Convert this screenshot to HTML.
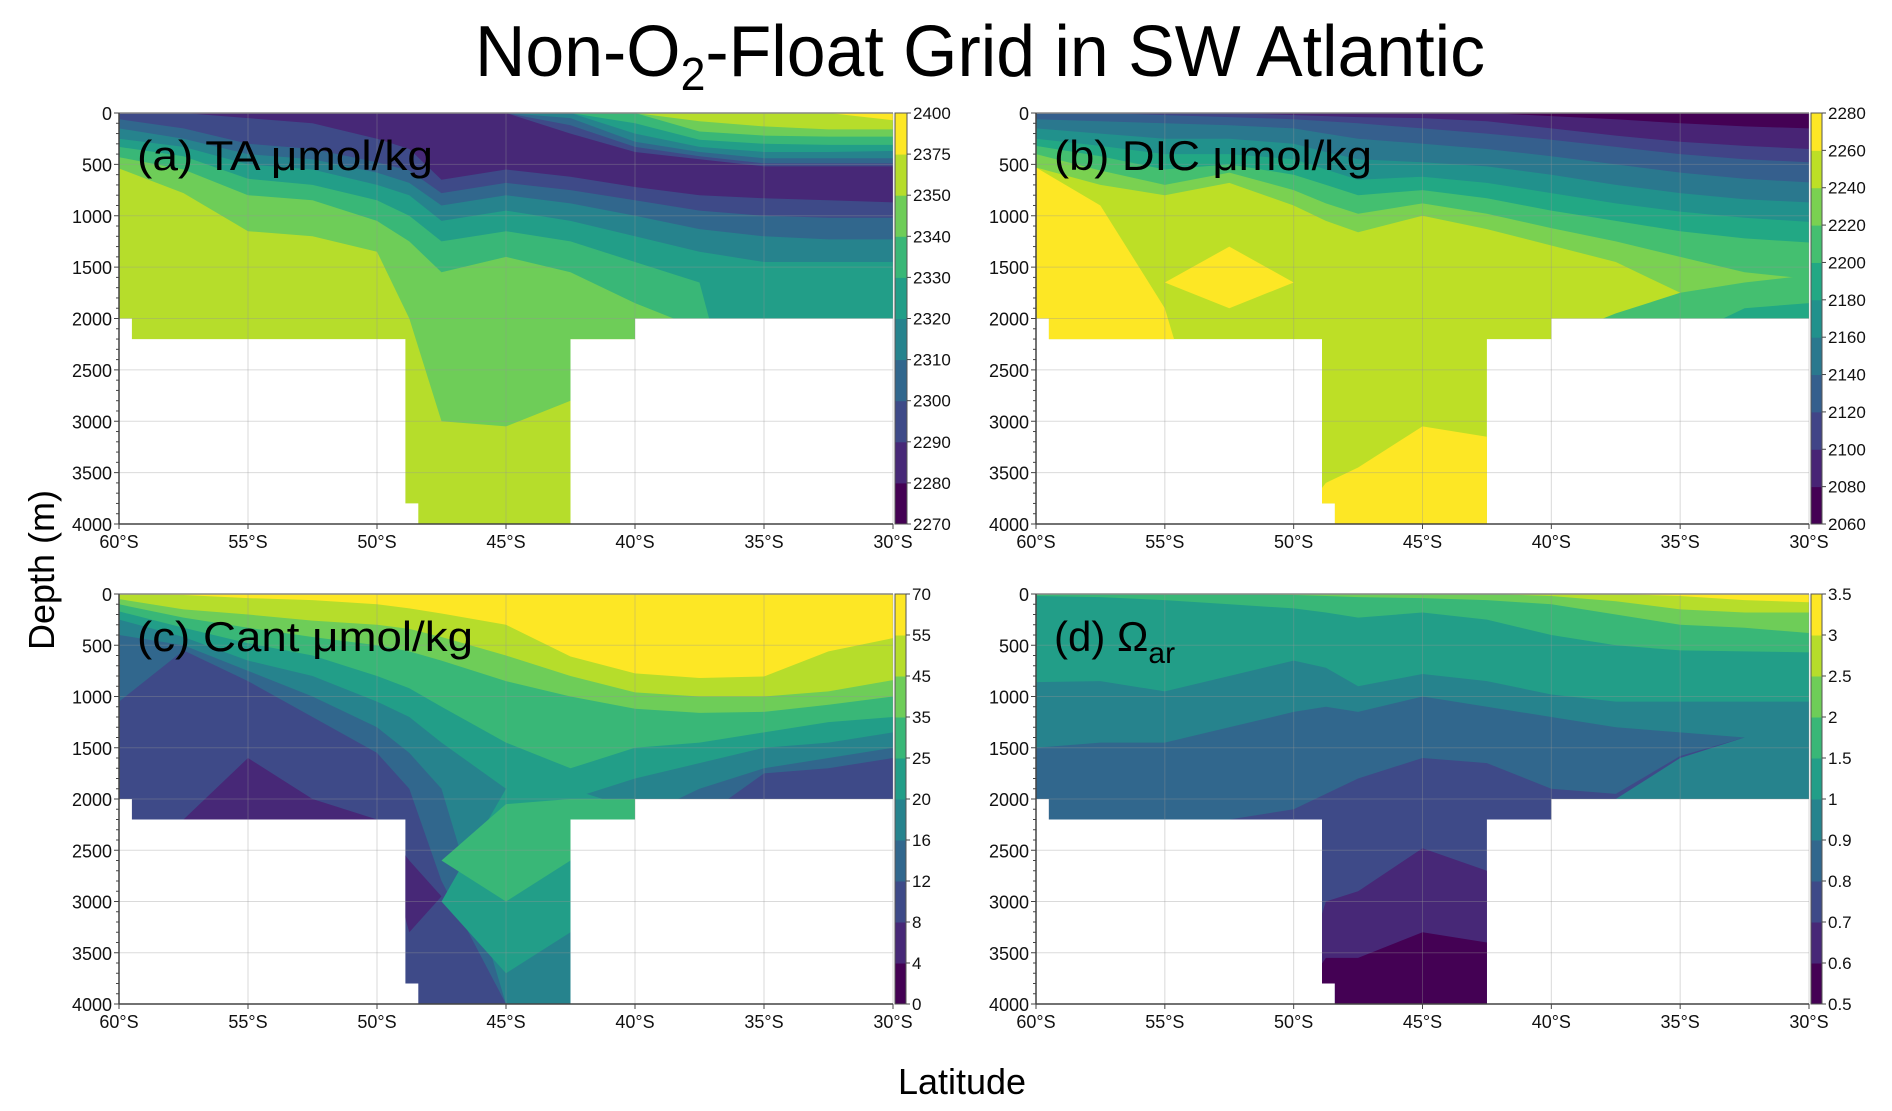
<!DOCTYPE html>
<html><head><meta charset="utf-8"><style>
html,body{margin:0;padding:0;background:#fff;}
svg{display:block;font-family:"Liberation Sans",sans-serif;}
</style></head><body>
<svg id="fig" width="1892" height="1111" viewBox="0 0 1892 1111" xmlns="http://www.w3.org/2000/svg">
<text x="980" y="76" text-anchor="middle" font-size="72" textLength="1010" lengthAdjust="spacingAndGlyphs" fill="#000">Non-O<tspan font-size="46" dy="14">2</tspan><tspan dy="-14">-Float Grid in SW Atlantic</tspan></text>
<text x="0" y="0" transform="translate(54,570) rotate(-90)" text-anchor="middle" font-size="36" fill="#000">Depth (m)</text>
<text x="962" y="1094" text-anchor="middle" font-size="36" fill="#000">Latitude</text>
</svg>
<script>
// ---------- shared data ----------
const LAT = [60,57.5,55,52.5,50,48.75,47.5,45,42.5,40,37.5,35,32.5,30];
const X_TICKS = [60,55,50,45,40,35,30];
const Y_TICKS = [0,500,1000,1500,2000,2500,3000,3500,4000];
const MASK_LAT = [60,30,30,40,40,42.5,42.5,48.4,48.4,48.9,48.9,59.5,59.5,60];
const MASK_DEP = [0,0,2000,2000,2200,2200,4000,4000,3800,3800,2200,2200,2000,2000];

// ---------- (a) TA ----------
const taLevels = ["2270","2280","2290","2300","2310","2320","2330","2340","2350","2375","2400"];
const taBot7 = [540,780,1150,1200,1350,2000,3000,3050,2800,9999,9999,9999,9999,9999];
const taBot6 = [430,550,800,850,1050,1250,1550,1400,1550,1850,2100,9999,9999,9999];
const taBot5 = [330,420,640,700,850,1000,1250,1150,1250,1450,1650,9999,9999,9999];
const taBot4 = [250,330,500,550,700,800,1050,950,1050,1200,1350,1450,1450,1450];
const taBot3 = [150,250,400,450,580,680,900,800,880,1000,1130,1200,1230,1230];
const taBot2 = [60,150,300,350,480,560,780,680,750,850,950,1000,1020,1020];
const taBot1 = [0,0,50,100,250,350,650,550,620,720,800,830,850,870];
const taTop2 = [0,0,0,0,0,0,0,0,200,380,450,520,520,520];
const taTop3 = [0,0,0,0,0,0,0,0,120,330,420,490,490,490];
const taTop4 = [0,0,0,0,0,0,0,0,50,280,380,440,440,440];
const taTop5 = [0,0,0,0,0,0,0,0,0,200,330,380,380,370];
const taTop6 = [0,0,0,0,0,0,0,0,0,100,260,300,310,310];
const taTop7 = [0,0,0,0,0,0,0,0,0,0,180,220,230,230];
const taTop8 = [0,0,0,0,0,0,0,0,0,0,80,130,160,160];
const taTop9 = [0,0,0,0,0,0,0,0,0,0,0,0,0,70];

// ---------- (b) DIC ----------
const dicLevels = ["2060","2080","2100","2120","2140","2160","2180","2200","2220","2240","2260","2280"];
const dicYellowLeftTop = [530,900,1900,4000,4000,4000,4000,4000,4000,4000,4000,4000,4000,4000];
const dicBlobTop = [1650,1650,1650,1300,1650,1650,1650,1650,1650,1650,1650,1650,1650,1650];
const dicBlobBot = [1650,1650,1650,1900,1650,1650,1650,1650,1650,1650,1650,1650,1650,1650];
const dicDeepTop = [4000,4000,4000,4000,4000,3600,3450,3050,3150,4000,4000,4000,4000,4000];
const dicLowRight7 = [4000,4000,4000,4000,4000,4000,4000,4000,4000,2200,1950,1750,1650,1580];
const dicLowRight6 = [4000,4000,4000,4000,4000,4000,4000,4000,4000,4000,4000,2200,1900,1850];
const dicBot8 = [530,700,800,680,900,1050,1160,1000,1130,1290,1450,1750,9999,9999];
const dicBot7 = [400,560,700,580,750,880,980,880,980,1120,1250,1400,1550,1615];
const dicBot6 = [320,420,550,500,600,700,800,750,830,950,1050,1150,1220,1260];
const dicBot5 = [250,320,400,400,450,550,650,620,680,780,880,960,1020,1060];
const dicBot4 = [150,200,250,250,300,380,450,480,520,600,700,780,840,870];
const dicBot3 = [60,80,100,120,150,200,250,300,350,420,500,580,640,675];
const dicBot2 = [0,0,20,40,60,80,100,150,200,260,330,400,450,480];
const dicBot1 = [0,0,0,0,20,30,40,50,80,150,220,280,320,350];
const dicBot0 = [0,0,0,0,0,0,0,0,0,30,60,100,130,150];

// ---------- (c) Cant ----------
const cantLevels = ["0","4","8","12","16","20","25","35","45","55","70"];
const cantBot9 = [0,10,40,60,100,140,190,300,610,775,820,805,560,430];
const cantBot8 = [50,150,200,260,300,340,420,600,800,960,1000,1000,950,840];
const cantBot7 = [100,230,330,420,500,560,650,850,1000,1120,1160,1150,1080,1000];
const cantBot6 = [170,330,480,600,800,920,1100,1450,1700,1500,1450,1350,1250,1200];
const cantBot5 = [250,420,650,800,1050,1200,1450,1900,2000,1800,1650,1500,1450,1350];
const cantBot4 = [400,500,750,1000,1300,1550,1900,4000,4000,2200,1900,1700,1600,1500];
const cantBot3 = [1050,550,850,1200,1550,1900,2800,4000,4000,2200,2200,1750,1700,1600];
const cantPurpleTop = [2200,2200,1600,2000,2200,2600,2950,2950,2950,2950,2950,2950,2950,2950];
const cantPurpleBot = [2200,2200,2200,2200,2200,3300,2950,2950,2950,2950,2950,2950,2950,2950];
const cantDeep5Top = [3000,3000,3000,3000,3000,3000,3000,1900,1900,2100,2100,2100,2100,2100];
const cantDeep5Bot = [3000,3000,3000,3000,3000,3000,3000,3700,3300,2100,2100,2100,2100,2100];
const cantDeep6Top = [2600,2600,2600,2600,2600,2600,2600,2050,2000,2000,2100,2100,2100,2100];
const cantDeep6Bot = [2600,2600,2600,2600,2600,2600,2600,3000,2600,2200,2100,2100,2100,2100];

// ---------- (d) Omega aragonite ----------
const omLevels = ["0.5","0.6","0.7","0.8","0.9","1","1.5","2","2.5","3","3.5"];
const omDeep1Top = [4000,4000,4000,4000,4000,3000,2900,2480,2700,4000,4000,4000,4000,4000];
const omDeep0Top = [4000,4000,4000,4000,4000,3550,3550,3300,3400,4000,4000,4000,4000,4000];
const omLow4Top = [4000,4000,4000,4000,4000,4000,4000,4000,4000,2200,2000,1600,1400,1400];
const omBot3 = [2200,2200,2200,2200,2100,1950,1800,1600,1650,1900,1950,1580,1400,0];
const omBot4 = [1500,1450,1450,1300,1150,1100,1150,1000,1100,1200,1300,1350,1400,1400];
const omBot5 = [860,850,950,800,650,720,900,780,850,980,1050,1050,1050,1050];
const omBot6 = [20,30,60,100,140,180,230,180,250,400,500,550,560,570];
const omBot7 = [0,0,0,0,10,20,30,40,60,100,200,300,330,380];
const omBot8 = [0,0,0,0,0,0,0,0,0,20,70,150,180,180];
const omBot9 = [0,0,0,0,0,0,0,0,0,0,0,20,60,80];

const FULL = LAT.map(()=>4000);
const ZERO = LAT.map(()=>0);

// ---------- helpers ----------
const NS = "http://www.w3.org/2000/svg";
const svg = document.getElementById('fig');
const VIR = ["#440154","#482475","#414487","#355f8d","#2a788e","#21918c","#22a884","#44bf70","#7ad151","#bddf26","#fde725"];
function hex(c){return [parseInt(c.slice(1,3),16),parseInt(c.slice(3,5),16),parseInt(c.slice(5,7),16)];}
function viridis(t){
  const p=t*10, i=Math.min(9,Math.floor(p)), f=p-i;
  const a=hex(VIR[i]), b=hex(VIR[i+1]);
  return "rgb("+a.map((v,k)=>Math.round(v+(b[k]-v)*f)).join(",")+")";
}
function mk(tag, attrs, parent){
  const e=document.createElementNS(NS,tag);
  for(const k in attrs) e.setAttribute(k,attrs[k]);
  (parent||svg).appendChild(e); return e;
}
function clamp(d){return Math.max(0,Math.min(4000,d));}

function drawPanel(p){
  const sx = lat => p.x0 + (60-lat)/30*(p.x1-p.x0);
  const sy = d => p.y0 + d/4000*(p.y1-p.y0);
  const n = p.levels.length-1;
  const col = i => viridis(i/(n-1));
  const g = mk('g',{});
  
  
  const cid = 'clip-'+p.name;
  const cp = mk('clipPath',{id:cid}, g);
  const mpts = MASK_LAT.map((l,i)=>sx(l).toFixed(1)+","+sy(MASK_DEP[i]).toFixed(1)).join(" ");
  mk('polygon',{points:mpts}, cp);
  const field = mk('g',{'clip-path':'url(#'+cid+')'}, g);
  
  
  const bg = mk('rect',{x:p.x0,y:p.y0,width:p.x1-p.x0,height:p.y1-p.y0,fill:col(p.bg)}, field);
  
  
  p.ops.forEach((op,k)=>{
    const top = op.top||ZERO, bot = op.bot;
    const up=[], dn=[];
    LAT.forEach((l,i)=>{
      let t=clamp(top[i]), b=clamp(bot[i]); if(t>b) t=b;
      up.push(sx(l).toFixed(1)+","+sy(t).toFixed(1));
      dn.push(sx(l).toFixed(1)+","+sy(b).toFixed(1));
    });
    const poly = mk('polygon',{points:up.concat(dn.reverse()).join(" "),fill:col(op.idx)}, field);
    
    
  });
  // grid
  X_TICKS.forEach(l=>{ mk('line',{x1:sx(l),x2:sx(l),y1:p.y0,y2:p.y1,stroke:'rgba(150,150,150,0.35)','stroke-width':1},g); });
  Y_TICKS.forEach(d=>{ mk('line',{x1:p.x0,x2:p.x1,y1:sy(d),y2:sy(d),stroke:'rgba(150,150,150,0.35)','stroke-width':1},g); });
  // spines
  mk('line',{x1:p.x0,x2:p.x1,y1:p.y0,y2:p.y0,stroke:'#888','stroke-width':1.5},g);
  mk('line',{x1:p.x0,x2:p.x1,y1:p.y1,y2:p.y1,stroke:'#444','stroke-width':1.5},g);
  mk('line',{x1:p.x0,x2:p.x0,y1:p.y0,y2:p.y1,stroke:'#444','stroke-width':1.5},g);
  for(let d=0; d<=4000; d+=100){ mk('line',{x1:p.x0-(d%500===0?5:3),x2:p.x0,y1:sy(d),y2:sy(d),stroke:'#444','stroke-width':1},g); }
  X_TICKS.forEach(l=>{
    mk('line',{x1:sx(l),x2:sx(l),y1:p.y1,y2:p.y1+5,stroke:'#444','stroke-width':1},g);
    const t = mk('text',{x:sx(l),y:p.y1+24,'text-anchor':'middle','font-size':18,fill:'#111'},g);
    
    
    t.textContent = l+"°S";
  });
  Y_TICKS.forEach(d=>{
    const t = mk('text',{x:p.x0-7,y:sy(d)+7,'text-anchor':'end','font-size':18,fill:'#111'},g);
    
    
    t.textContent = d;
  });
  // colorbar
  const cb = mk('g',{},g);
  
  
  const h=(p.y1-p.y0)/n;
  for(let i=0;i<n;i++){
    mk('rect',{x:p.cx,y:p.y1-(i+1)*h,width:p.cw,height:h+0.5,fill:col(i)},cb);
  }
  mk('rect',{x:p.cx,y:p.y0,width:p.cw,height:p.y1-p.y0,fill:'none',stroke:'#555','stroke-width':1},cb);
  p.levels.forEach((lab,i)=>{
    const y=p.y1-i*h;
    mk('line',{x1:p.cx+p.cw,x2:p.cx+p.cw+4,y1:y,y2:y,stroke:'#444'},cb);
    const t = mk('text',{x:p.cx+p.cw+6,y:y+6,'font-size':17,fill:'#111'},cb);
    
    
    t.textContent = lab;
  });
  // panel label
  const lt = mk('text',{x:p.x0+18,y:p.y0+57,'font-size':42,fill:'#000'},g);
  
  
  if(p.labelLen){ lt.setAttribute('textLength', p.labelLen); lt.setAttribute('lengthAdjust','spacingAndGlyphs'); }
  lt.innerHTML = p.label;
}

drawPanel({name:'ta', x0:119,x1:893,y0:113,y1:524, cx:895,cw:12, levels:taLevels, bg:8,
  label:'(a) TA μmol/kg', labelLen:296,
  ops:[{idx:7,bot:taBot7},{idx:6,bot:taBot6},{idx:5,bot:taBot5},{idx:4,bot:taBot4},{idx:3,bot:taBot3},{idx:2,bot:taBot2},{idx:1,bot:taBot1},
       {idx:2,bot:taTop2},{idx:3,bot:taTop3},{idx:4,bot:taTop4},{idx:5,bot:taTop5},{idx:6,bot:taTop6},{idx:7,bot:taTop7},{idx:8,bot:taTop8},{idx:9,bot:taTop9}]});

drawPanel({name:'dic', x0:1036,x1:1809,y0:113,y1:524, cx:1811,cw:11, levels:dicLevels, bg:9,
  label:'(b) DIC μmol/kg', labelLen:318,
  ops:[{idx:10,top:dicYellowLeftTop,bot:FULL},{idx:10,top:dicBlobTop,bot:dicBlobBot},{idx:10,top:dicDeepTop,bot:FULL},
       {idx:8,bot:dicBot8},{idx:7,top:dicLowRight7,bot:FULL},{idx:6,top:dicLowRight6,bot:FULL},
       {idx:7,bot:dicBot7},{idx:6,bot:dicBot6},{idx:5,bot:dicBot5},{idx:4,bot:dicBot4},{idx:3,bot:dicBot3},{idx:2,bot:dicBot2},{idx:1,bot:dicBot1},{idx:0,bot:dicBot0}]});

drawPanel({name:'cant', x0:119,x1:893,y0:594,y1:1004, cx:895,cw:11, levels:cantLevels, bg:2,
  label:'(c) Cant μmol/kg', labelLen:336,
  ops:[{idx:3,bot:cantBot3},{idx:4,bot:cantBot4},{idx:5,bot:cantBot5},{idx:6,bot:cantBot6},{idx:7,bot:cantBot7},{idx:8,bot:cantBot8},{idx:9,bot:cantBot9},
       {idx:1,top:cantPurpleTop,bot:cantPurpleBot},{idx:5,top:cantDeep5Top,bot:cantDeep5Bot},{idx:6,top:cantDeep6Top,bot:cantDeep6Bot}]});

drawPanel({name:'omega', x0:1036,x1:1809,y0:594,y1:1004, cx:1811,cw:11, levels:omLevels, bg:2,
  label:'(d) Ω<tspan font-size="30" dy="12">ar</tspan>',
  ops:[{idx:1,top:omDeep1Top,bot:FULL},{idx:0,top:omDeep0Top,bot:FULL},{idx:3,bot:omBot3},{idx:4,top:omLow4Top,bot:FULL},
       {idx:4,bot:omBot4},{idx:5,bot:omBot5},{idx:6,bot:omBot6},{idx:7,bot:omBot7},{idx:8,bot:omBot8},{idx:9,bot:omBot9}]});
</script>
</body></html>
